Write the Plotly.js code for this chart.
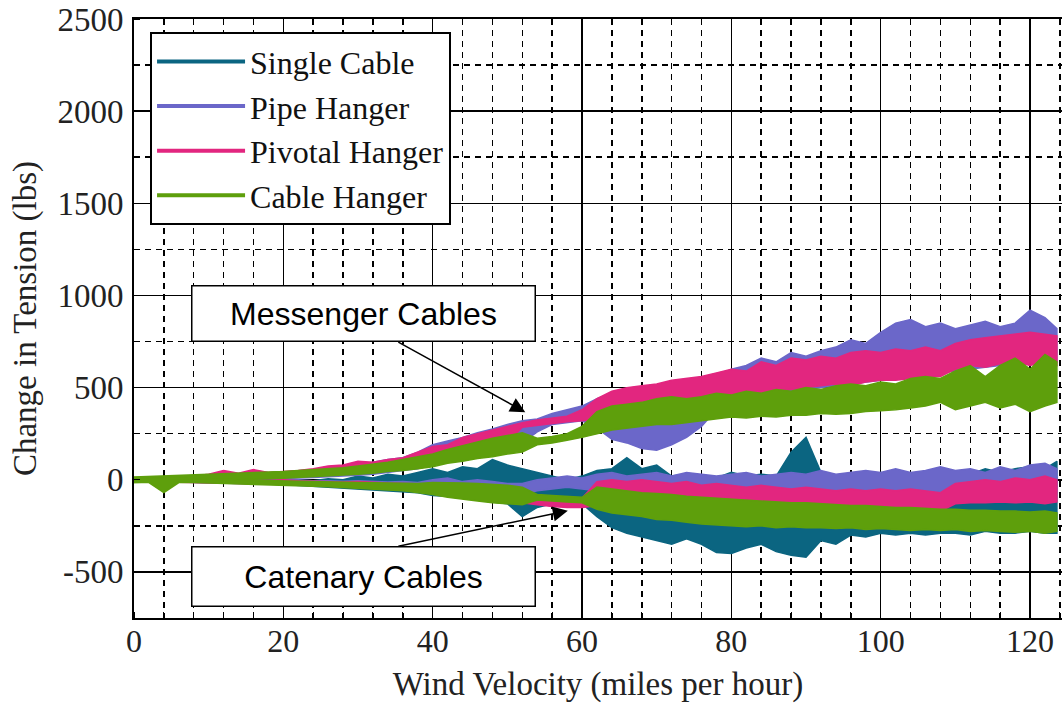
<!DOCTYPE html>
<html><head><meta charset="utf-8">
<script src="https://cdn.plot.ly/plotly-3.0.1.min.js"></script>
<style>html,body{margin:0;padding:0;background:#fff}#chart{width:1062px;height:705px}</style>
</head><body><div id="chart"></div>
<script>
// Wind velocity (mph) sample positions
const velocity = [0,2,4,6,8,10,12,14,16,18,20,22,24,26,28,30,32,34,36,38,40,42,44,46,48,50,52,54,56,58,60,62,64,66,68,70,72,74,76,78,80,82,84,86,88,90,92,94,96,98,100,102,104,106,108,110,112,114,116,118,120,122,123.6];

// Single Cable (one band)
const singleUpper = [10,10,8,8,6,5,4,2,0,-2, -3,-4,-5,5,0,20,10,30,20,40, 60,40,70,60,110,80,60,40,20,0, 20,50,60,120,60,80,20,30,20,10, 40,20,30,20,150,230,40,20,30,20, 40,30,20,30,20,40,30,60,40,60, 70,60,100];
const singleLower = [-10,-10,-10,-12,-12,-14,-16,-18,-20,-22, -25,-28,-32,-38,-42,-48,-55,-60,-65,-70, -85,-90,-95,-110,-120,-130,-200,-150,-130,-120, -130,-200,-260,-290,-310,-330,-350,-320,-350,-395, -400,-370,-350,-390,-410,-420,-330,-350,-300,-310, -290,-300,-290,-300,-290,-290,-300,-280,-290,-290, -280,-290,-290];

// Pipe Hanger: messenger and catenary envelopes
const pipeMsgUpper = [10,12,14,16,18,22,45,30,50,38, 42,48,55,65,75,85,95,110,120,150, 190,210,230,255,275,300,320,330,360,380, 400,440,470,490,470,500,510,540,530,560, 600,620,660,640,690,670,700,720,760,740, 800,850,870,830,850,820,840,860,830,850, 920,880,820];
const pipeMsgLower = [-10,-8,-6,-5,-4,-2,0,2,4,6, 8,10,12,15,20,25,30,40,50,60, 80,100,120,140,160,180,200,260,300,310, 320,280,220,200,170,160,190,230,290,380, 420,440,450,470,480,490,500,510,520,530, 540,550,560,570,580,590,600,610,620,620, 640,650,640];
const pipeCatUpper = [10,8,6,5,4,3,2,0,-1,-2, 5,0,-5,-5,-8,-5,-10,-12,-10,-15, 0,10,-10,0,-10,-20,-20,0,10,20, 10,30,40,20,30,40,20,40,30,20, 30,40,20,30,40,30,50,30,40,50, 40,60,40,50,70,50,60,40,70,50, 80,90,60];
const pipeCatLower = [-10,-10,-12,-12,-14,-15,-16,-18,-20,-22, -25,-28,-30,-32,-35,-38,-40,-42,-45,-48, -50,-50,-60,-70,-80,-90,-80,-60,-50,-40, -50,-60,-60,-70,-60,-70,-70,-60,-70,-70, -80,-70,-80,-70,-80,-80,-70,-80,-70,-80, -70,-80,-70,-80,-70,-60,-60,-50,-60,-50, -60,-50,-60];

// Pivotal Hanger
const pivotMsgUpper = [10,12,15,18,20,30,50,35,55,40, 45,50,60,75,80,100,95,110,120,150, 180,190,230,250,270,290,310,325,335,345, 380,440,480,500,510,520,540,550,560,580, 600,590,640,620,660,650,670,660,690,700, 690,710,700,720,700,740,760,770,780,790, 800,790,780];
const pivotMsgLower = [-10,-8,-5,-5,0,0,5,5,10,10, 15,20,25,30,35,40,50,60,70,80, 100,120,140,160,180,200,285,295,305,315, 320,330,380,400,410,400,420,410,430,440, 450,460,470,480,490,500,510,520,510,530, 540,540,550,560,560,600,620,610,630,640, 620,640,620];
const pivotCatUpper = [10,8,6,5,4,3,2,0,-2,-3, 0,-5,-8,-10,-12,-10,-15,-18,-20,-22, -20,-25,-30,-40,-50,-60,-90,-100,-105,-110, -100,-10,0,-10,0,-10,-20,-10,-30,-20, -30,-40,-30,-40,-50,-40,-50,-60,-50,-60, -50,-60,-50,-60,-70,-20,-10,0,-10,10, 0,20,0];
const pivotCatLower = [-10,-12,-12,-14,-15,-16,-18,-20,-22,-24, -25,-28,-30,-35,-38,-40,-45,-50,-55,-58, -60,-70,-80,-90,-100,-110,-125,-135,-145,-150, -150,-140,-130,-135,-130,-130,-140,-135,-140,-145, -140,-150,-150,-155,-160,-160,-165,-160,-165,-170, -165,-170,-165,-170,-170,-130,-125,-125,-120,-125, -120,-130,-120];

// Cable Hanger
const cableMsgUpper = [15,18,20,22,25,28,30,35,38,42, 45,50,55,60,65,75,85,95,110,125, 140,165,185,205,225,240,255,225,235,250, 290,370,400,410,420,440,450,440,450,470, 460,480,470,490,480,500,490,510,520,510, 530,520,550,560,550,590,620,560,620,660, 600,680,640];
const cableMsgLower = [-15,-12,-15,-10,-8,-5,-5,0,2,5, 8,12,15,20,25,30,35,45,50,60, 70,90,100,115,125,140,150,190,200,215, 230,250,270,280,290,300,300,310,320,330, 340,335,345,340,350,350,360,355,360,370, 375,380,390,400,420,380,400,420,390,410, 370,400,420];
const cableCatUpper = [12,10,8,8,5,3,2,0,-2,-4, -5,-8,-10,-12,-14,-15,-16,-18,-20,-20, -15,-15,-18,-20,-25,-30,-40,-80,-85,-90, -95,-40,-50,-60,-70,-75,-80,-90,-95,-100, -105,-110,-115,-120,-125,-125,-130,-135,-140,-140, -145,-150,-150,-155,-160,-160,-165,-165,-170,-170, -175,-170,-180];
const cableCatLower = [-15,-15,-70,-15,-15,-18,-20,-22,-25,-28, -30,-32,-35,-38,-42,-45,-50,-55,-60,-70, -80,-95,-105,-115,-125,-130,-135,-110,-115,-120, -125,-160,-180,-190,-200,-215,-220,-230,-240,-245, -250,-255,-250,-260,-255,-260,-260,-265,-260,-270, -265,-270,-275,-270,-275,-270,-280,-275,-280,-285, -280,-290,-280];

const seriesNames = ['Single Cable','Pipe Hanger','Pivotal Hanger','Cable Hanger'];
const seriesColors = ['#0b6581','#6b67c9','#e2267f','#5e9f0c'];

const xTickVals = [0,20,40,60,80,100,120];
const yTickVals = [-500,0,500,1000,1500,2000,2500];
const yTickText = ['-500','0','500','1000','1500','2000','2500'];

function band(upper, lower, color) {
  return {
    type:'scatter', mode:'lines', hoverinfo:'skip', showlegend:false,
    x: velocity.concat(velocity.slice().reverse()),
    y: upper.concat(lower.slice().reverse()),
    fill:'toself', fillcolor: color,
    line:{color: color, width:1.5}
  };
}

const traces = [
  band(singleUpper, singleLower, seriesColors[0]),
  band(pipeMsgUpper, pipeMsgLower, seriesColors[1]),
  band(pipeCatUpper, pipeCatLower, seriesColors[1]),
  band(pivotMsgUpper, pivotMsgLower, seriesColors[2]),
  band(pivotCatUpper, pivotCatLower, seriesColors[2]),
  band(cableMsgUpper, cableMsgLower, seriesColors[3]),
  band(cableCatUpper, cableCatLower, seriesColors[3])
];
seriesNames.forEach((n,i)=>{
  traces.push({type:'scatter', mode:'lines', name:n, x:[null], y:[null], line:{color:seriesColors[i], width:4}});
});

const serif = 'Liberation Serif, Times New Roman, serif';
const sans = 'Liberation Sans, Arial, sans-serif';

const layout = {
  width:1062, height:705,
  margin:{l:134, r:0, t:19, b:87},
  paper_bgcolor:'#fff', plot_bgcolor:'#fff',
  showlegend:true,
  legend:{x:0.0173, y:0.978, xanchor:'left', yanchor:'top', bgcolor:'#fff',
          bordercolor:'#000', borderwidth:2, itemwidth:88, tracegroupgap:0,
          font:{family:serif, size:32, color:'#111'}},
  xaxis:{range:[0,124.28], tickmode:'array', tickvals:xTickVals, showgrid:true, gridcolor:'#000', gridwidth:1.5,
         zeroline:false, showline:true, mirror:true, linecolor:'#000', linewidth:2, ticks:'',
         ticklabelstandoff:-6,
         tickfont:{family:serif, size:32, color:'#222'},
         minor:{tickmode:'linear', tick0:0, dtick:4, showgrid:true, gridcolor:'#000', gridwidth:1.5, griddash:'6px,5px', ticks:'inside', ticklen:6, tickcolor:'#000'},
         title:{text:'Wind Velocity (miles per hour)', font:{family:serif, size:33, color:'#222'}, standoff:13}},
  yaxis:{range:[-750,2500], tickmode:'array', tickvals:yTickVals, ticktext:yTickText, showgrid:true, gridcolor:'#000', gridwidth:1.5,
         zeroline:false, showline:true, mirror:true, linecolor:'#000', linewidth:2, ticks:'',
         ticklabelstandoff:2,
         tickfont:{family:serif, size:33, color:'#222'},
         minor:{tickmode:'linear', tick0:0, dtick:250, showgrid:true, gridcolor:'#000', gridwidth:1.5, griddash:'6px,5px', ticks:'inside', ticklen:6, tickcolor:'#000'},
         title:{text:'Change in Tension (lbs)', font:{family:serif, size:33, color:'#222'}, standoff:11}},
  annotations:[
    {xref:'x', yref:'y', x:52.4, y:367, axref:'x', ayref:'y', ax:35.2, ay:751, text:'', showarrow:true,
     arrowhead:2, arrowsize:2, arrowwidth:1.5, arrowcolor:'#000', standoff:0, startstandoff:0},
    {xref:'x', yref:'y', x:58.1, y:-168, axref:'x', ayref:'y', ax:35.2, ay:-362, text:'', showarrow:true,
     arrowhead:2, arrowsize:2, arrowwidth:1.5, arrowcolor:'#000', standoff:0, startstandoff:0},
    {xref:'x', yref:'y', x:30.67, y:903, text:'Messenger Cables', showarrow:false, width:336, height:48,
     bgcolor:'#fff', bordercolor:'#000', borderwidth:1.5, borderpad:3, font:{family:sans, size:32, color:'#000'}},
    {xref:'x', yref:'y', x:30.67, y:-524, text:'Catenary Cables', showarrow:false, width:336, height:52,
     bgcolor:'#fff', bordercolor:'#000', borderwidth:1.5, borderpad:3, font:{family:sans, size:32, color:'#000'}}
  ]
};

Plotly.newPlot('chart', traces, layout, {staticPlot:true, displayModeBar:false});
</script>
</body></html>
